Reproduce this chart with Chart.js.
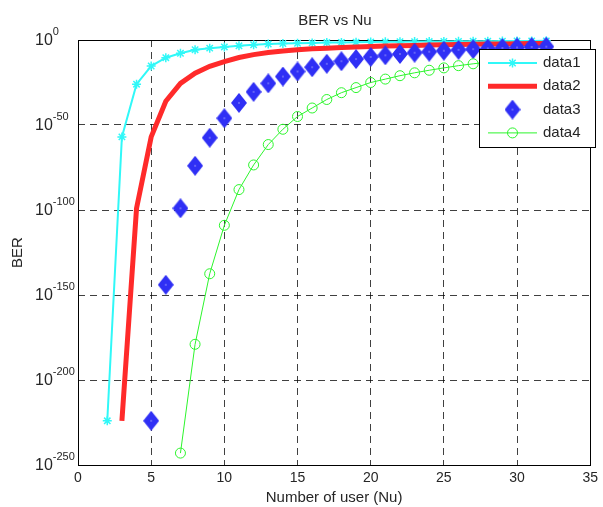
<!DOCTYPE html>
<html>
<head>
<meta charset="utf-8">
<script src="https://cdn.jsdelivr.net/npm/chart.js@4.4.1/dist/chart.umd.min.js"></script>
<style>
    html, body { margin: 0; padding: 0; background: #fff; }
    #wrap { width: 603px; height: 507px; }
</style>
</head>
<body>
<div id="wrap"><canvas id="berChart" width="603" height="507"></canvas></div>
<script>
// Number of users and BER exponents (BER = 10^value)
const nu1 = [2, 3, 4, 5, 6, 7, 8, 9, 10, 11, 12, 13, 14, 15, 16, 17, 18, 19, 20, 21, 22, 23, 24, 25, 26, 27, 28, 29, 30, 31, 32];
const ber1 = [-224, -57, -26, -15.3, -10.4, -7.8, -5.7, -4.8, -4.1, -3.4, -2.8, -2.4, -2.1, -1.9, -1.7, -1.5,
              -1.4, -1.3, -1.2, -1.1, -1.0, -0.95, -0.9, -0.85, -0.8, -0.75, -0.7, -0.65, -0.6, -0.55, -0.5];

const nu2 = [3, 4, 5, 6, 7, 8, 9, 10, 11, 12, 13, 14, 15, 16, 17, 18, 19, 20, 21, 22, 23, 24, 25, 26, 27, 28, 29, 30, 31, 32];
const ber2 = [-224, -99, -57, -36, -25.5, -19.5, -15.5, -12.7, -10.3, -8.6, -7.4, -6.5, -5.8, -5.2, -4.8,
              -4.4, -4.1, -3.8, -3.6, -3.4, -3.2, -3.0, -2.85, -2.7, -2.55, -2.4, -2.3, -2.2, -2.1, -2.0];

const nu3 = [5, 6, 7, 8, 9, 10, 11, 12, 13, 14, 15, 16, 17, 18, 19, 20, 21, 22, 23, 24, 25, 26, 27, 28, 29, 30, 31, 32];
const ber3 = [-224, -144, -99, -74, -57.5, -46, -37, -30.5, -25.5, -21.5, -18.5, -16, -14, -12.5,
              -11.2, -10, -9, -8.2, -7.5, -6.9, -6.3, -5.8, -5.4, -5.0, -4.7, -4.4, -4.1, -3.9];

const nu4 = [7, 8, 9, 10, 11, 12, 13, 14, 15, 16, 17, 18, 19, 20, 21, 22, 23, 24, 25, 26, 27, 28, 29, 30, 31, 32];
const ber4 = [-243, -179, -137.5, -109, -88, -73.5, -61.5, -52.5, -45, -40, -35, -31, -28, -25, -23,
              -21, -19.3, -17.8, -16.4, -15.1, -14, -13, -12.1, -11.3, -10.6, -10];

const seriesNames = ['data1', 'data2', 'data3', 'data4'];
const xTicks = [0, 5, 10, 15, 20, 25, 30, 35];
const yTicks = [0, -50, -100, -150, -200, -250];

const textColor = '#262626';
const fontFam = '"Liberation Sans", Arial, sans-serif';

function pairs(xs, ys) {
    return xs.map((x, i) => ({ x: x, y: ys[i] }));
}

// MATLAB style tall diamond with the little white centre dot
function makeDiamond(w, h, color) {
    const c = document.createElement('canvas');
    c.width = w; c.height = h;
    const g = c.getContext('2d');
    g.fillStyle = color;
    g.beginPath();
    g.moveTo(w / 2, 0); g.lineTo(w, h / 2); g.lineTo(w / 2, h); g.lineTo(0, h / 2);
    g.closePath(); g.fill();
    g.fillStyle = '#fff';
    g.fillRect(w / 2 - 0.5, h / 2 - 0.5, 1, 1);
    return c;
}
const diamond = makeDiamond(16, 20, '#2f2ff5');

const decor = {
    id: 'berDecor',
    beforeDatasetsDraw(chart) {
        const { ctx, chartArea: a } = chart;
        ctx.save();
        ctx.strokeStyle = '#000';
        ctx.lineWidth = 1;
        ctx.strokeRect(Math.round(a.left) + 0.5, Math.round(a.top) + 0.5,
                       Math.round(a.right - a.left), Math.round(a.bottom - a.top));
        ctx.restore();
    },
    afterDraw(chart) {
        const { ctx } = chart;
        const ys = chart.scales.y;
        ctx.save();
        ctx.fillStyle = textColor;

        // y tick labels as 10^n
        yTicks.forEach(v => {
            const py = ys.getPixelForValue(v);
            ctx.textAlign = 'left';
            ctx.textBaseline = 'alphabetic';
            ctx.font = '16px ' + fontFam;
            ctx.fillText('10', 35, py + 5);
            const w = ctx.measureText('10').width;
            ctx.font = '11px ' + fontFam;
            ctx.fillText(String(v), 35 + w, py - 5);
        });

        // title
        ctx.font = '15px ' + fontFam;
        ctx.textAlign = 'center';
        ctx.textBaseline = 'middle';
        ctx.fillText('BER vs Nu', 335, 21);

        // legend box
        const bx = 479, by = 49, bw = 116, bh = 98;
        ctx.fillStyle = '#fff';
        ctx.fillRect(bx, by, bw, bh);
        ctx.strokeStyle = '#000';
        ctx.lineWidth = 1;
        ctx.strokeRect(bx + 0.5, by + 0.5, bw, bh);

        chart.data.datasets.forEach((ds, i) => {
            const ly = 63 + i * 23.3;
            const x1 = 488, x2 = 537, xm = (x1 + x2) / 2;
            if (ds.showLine !== false) {
                ctx.strokeStyle = ds.borderColor;
                ctx.lineWidth = ds.borderWidth;
                ctx.beginPath(); ctx.moveTo(x1, ly); ctx.lineTo(x2, ly); ctx.stroke();
            }
            if (ds.pointStyle === 'star') {
                ctx.strokeStyle = ds.pointBorderColor;
                ctx.lineWidth = ds.pointBorderWidth;
                const r = ds.pointRadius;
                ctx.beginPath();
                ctx.moveTo(xm - r, ly); ctx.lineTo(xm + r, ly);
                ctx.moveTo(xm, ly - r); ctx.lineTo(xm, ly + r);
                const d = r * Math.SQRT1_2;
                ctx.moveTo(xm - d, ly - d); ctx.lineTo(xm + d, ly + d);
                ctx.moveTo(xm - d, ly + d); ctx.lineTo(xm + d, ly - d);
                ctx.stroke();
            } else if (ds.pointStyle === 'circle' && ds.pointRadius > 0) {
                ctx.strokeStyle = ds.pointBorderColor;
                ctx.lineWidth = ds.pointBorderWidth;
                ctx.beginPath(); ctx.arc(xm, ly, ds.pointRadius, 0, Math.PI * 2); ctx.stroke();
            } else if (ds.pointStyle instanceof HTMLCanvasElement) {
                ctx.drawImage(ds.pointStyle, xm - ds.pointStyle.width / 2, ly - ds.pointStyle.height / 2);
            }
            ctx.fillStyle = textColor;
            ctx.font = '15px ' + fontFam;
            ctx.textAlign = 'left';
            ctx.textBaseline = 'middle';
            ctx.fillText(seriesNames[i], 543, ly);
        });
        ctx.restore();
    }
};

window.addEventListener('DOMContentLoaded', () => {
    const ctx = document.getElementById('berChart').getContext('2d');
    new Chart(ctx, {
        type: 'line',
        data: {
            datasets: [
                {
                    label: seriesNames[0], data: pairs(nu1, ber1), order: 4,
                    borderColor: '#30f8f8', borderWidth: 2,
                    pointStyle: 'star', pointRadius: 4.5, pointBorderWidth: 1.5,
                    pointBorderColor: '#30f8f8', pointBackgroundColor: '#30f8f8',
                    clip: false
                },
                {
                    label: seriesNames[1], data: pairs(nu2, ber2), order: 3,
                    borderColor: '#ff2a2a', borderWidth: 5,
                    pointStyle: 'circle', pointRadius: 0, pointBorderWidth: 0,
                    clip: false
                },
                {
                    label: seriesNames[2], data: pairs(nu3, ber3), order: 2,
                    showLine: false,
                    pointStyle: diamond, pointRadius: 9,
                    clip: false
                },
                {
                    label: seriesNames[3], data: pairs(nu4, ber4), order: 1,
                    borderColor: '#2cf52c', borderWidth: 1,
                    pointStyle: 'circle', pointRadius: 5, pointBorderWidth: 1,
                    pointBorderColor: '#2cf52c', pointBackgroundColor: 'rgba(0,0,0,0)',
                    clip: false
                }
            ]
        },
        options: {
            responsive: false,
            animation: false,
            events: [],
            layout: { padding: { left: 0, right: 9, top: 40, bottom: 0 } },
            plugins: {
                legend: { display: false },
                title: { display: false },
                tooltip: { enabled: false }
            },
            scales: {
                x: {
                    type: 'linear', min: 0, max: 35,
                    afterBuildTicks: s => { s.ticks = xTicks.map(v => ({ value: v })); },
                    afterFit: s => { s.height = 42; },
                    grid: { color: 'rgba(0,0,0,0.75)', drawTicks: false, lineWidth: 1 },
                    border: { display: false, dash: [7, 5] },
                    ticks: { color: textColor, font: { size: 14, family: fontFam }, padding: 5, maxRotation: 0 },
                    title: {
                        display: true, text: 'Number of user (Nu)', color: textColor,
                        font: { size: 15, family: fontFam }, padding: { top: 0, bottom: 0 }
                    }
                },
                y: {
                    type: 'linear', min: -250, max: 0,
                    afterBuildTicks: s => { s.ticks = yTicks.map(v => ({ value: v })); },
                    afterFit: s => { s.width = 78; },
                    grid: { color: 'rgba(0,0,0,0.75)', drawTicks: false, lineWidth: 1 },
                    border: { display: false, dash: [7, 5] },
                    ticks: { display: false },
                    title: {
                        display: true, text: 'BER', color: textColor,
                        font: { size: 15, family: fontFam }, padding: { top: 9, bottom: 0 }
                    }
                }
            }
        },
        plugins: [decor]
    });
});
</script>
</body>
</html>
